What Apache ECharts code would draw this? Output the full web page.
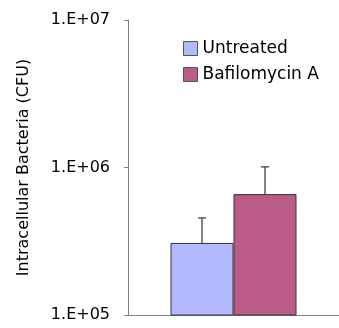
<!DOCTYPE html>
<html>
<head>
<meta charset="utf-8">
<script src="https://cdn.jsdelivr.net/npm/echarts@6/dist/echarts.min.js"></script>
<style>
body{margin:0;background:#fff}
#chartmain{width:339px;height:328px}
</style>
</head>
<body>
<div id="chartmain"></div>
<script>
var groups=['Untreated','Bafilomycin A'];
var means=[3.08e5,6.6e5];
var errTops=[4.55e5,1.01e6];
var colors=['#b3b9ff','#ba5c87'];
var yTicks=[1e5,1e6,1e7];
var barW=63;

var fontName='DejaVu Sans';
var series=[];
for(var i=0;i<groups.length;i++){
	series.push({
		name:groups[i],
		type:'bar',
		barWidth:barW,
		barGap:'0%',
		data:[means[i]],
		itemStyle:{color:colors[i],borderColor:'#333',borderWidth:1}
	});
}
var errData=[];
for(var i=0;i<groups.length;i++){
	errData.push([0,means[i],errTops[i],i]);
}
series.push({
	type:'custom',
	name:'err',
	data:errData,
	encode:{x:0,y:[1,2]},
	z:1,
	renderItem:function(params,api){
		var k=api.value(3);
		var off=(k-(groups.length-1)/2)*barW;
		var p0=api.coord([0,api.value(1)]);
		var p1=api.coord([0,api.value(2)]);
		var x=p0[0]+off;
		var st={stroke:'#333',lineWidth:1.2};
		return {type:'group',children:[
			{type:'line',shape:{x1:x,y1:p0[1],x2:x,y2:p1[1]},style:st},
			{type:'line',shape:{x1:x-4,y1:p1[1],x2:x+4,y2:p1[1]},style:st}
		]};
	}
});

var option={
	animation:false,
	textStyle:{fontFamily:fontName},
	grid:{left:128,width:225,top:20,bottom:13},
	legend:{
		data:groups,
		orient:'vertical',
		left:183,
		top:40,
		padding:0,
		itemWidth:14,
		itemHeight:14,
		itemGap:9,
		icon:'rect',
		itemStyle:{borderColor:'#555',borderWidth:1},
		textStyle:{fontFamily:fontName,fontSize:17,color:'#000'}
	},
	xAxis:{
		type:'category',
		data:[''],
		axisLine:{lineStyle:{color:'#808080',width:1}},
		axisTick:{show:false},
		axisLabel:{show:false}
	},
	yAxis:{
		type:'log',
		logBase:10,
		min:yTicks[0],
		max:yTicks[yTicks.length-1],
		name:'Intracellular Bacteria (CFU)',
		nameLocation:'middle',
		nameGap:96,
		nameTextStyle:{fontFamily:fontName,fontSize:16,color:'#000'},
		axisLine:{show:true,lineStyle:{color:'#808080',width:1}},
		axisTick:{show:true,length:4,lineStyle:{color:'#808080'}},
		minorTick:{show:false},
		splitLine:{show:false},
		axisLabel:{
			fontFamily:fontName,
			fontSize:16,
			color:'#000',
			margin:18,
			formatter:function(v){
				var e=Math.round(Math.log10(v));
				return '1.E+'+(e<10?'0':'')+e;
			}
		}
	},
	series:series
};
var myChart=echarts.init(document.getElementById('chartmain'));
myChart.setOption(option);
</script>
</body>
</html>
